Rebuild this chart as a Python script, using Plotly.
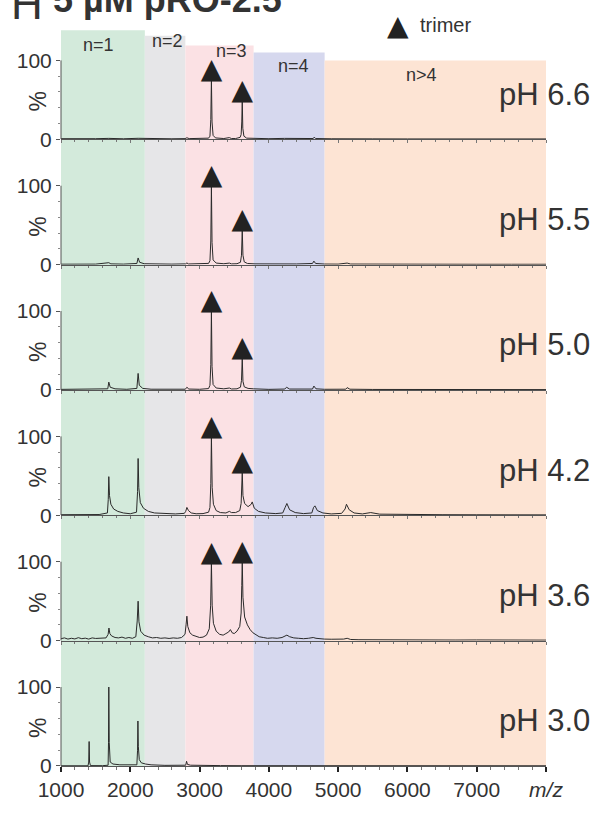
import plotly.graph_objects as go
from plotly.subplots import make_subplots

# ---------------- data ----------------
ph_labels = ["pH 6.6", "pH 5.5", "pH 5.0", "pH 4.2", "pH 3.6", "pH 3.0"]

mz1 = [1000, 1250, 1500, 1690, 1900, 2113, 2300, 2600, 2790, 2817,
       2850, 3000, 3130, 3150, 3162, 3171, 3180, 3195, 3230, 3350,
       3430, 3460, 3520, 3585, 3600, 3609, 3616, 3624, 3640, 3680,
       3800, 4000, 4226, 4500, 4640, 4655, 4675, 4900, 5120, 5500,
       6000, 6500, 7000, 7500, 8000]
int1 = [0.8, 0.6, 0.8, 1.2, 0.7, 1.3, 0.8, 0.7, 0.9, 2.0,
        0.9, 0.8, 1.5, 4, 25, 76, 22, 5, 1.8, 1.0,
        2.2, 1.0, 1.0, 2.5, 6, 22, 49, 14, 4, 1.5,
        1.0, 0.8, 1.2, 0.7, 1.0, 2.8, 1.0, 0.7, 1.0, 0.6,
        0.5, 0.5, 0.6, 0.5, 0.5]

mz2 = [1000, 1300, 1500, 1690, 1720, 1900, 2095, 2113, 2135, 2200,
       2400, 2600, 2800, 2817, 2840, 3000, 3130, 3150, 3162, 3171,
       3180, 3195, 3240, 3350, 3430, 3460, 3540, 3590, 3605, 3616,
       3626, 3645, 3690, 3800, 4000, 4250, 4400, 4630, 4650, 4675,
       4800, 5000, 5130, 5180, 5500, 6000, 6500, 7000, 7500, 8000]
int2 = [0.6, 0.8, 0.7, 2.5, 1.0, 0.7, 1.5, 8.5, 3.0, 1.2,
        0.8, 0.7, 1.0, 2.2, 0.9, 0.8, 1.6, 5, 30, 100,
        28, 6, 2.0, 1.2, 2.0, 1.0, 1.2, 3, 12, 44,
        12, 3.5, 1.5, 1.0, 0.8, 1.5, 0.9, 1.5, 4.5, 1.5,
        0.8, 0.7, 2.0, 0.8, 0.6, 0.5, 0.6, 0.5, 0.5, 0.5]

mz3 = [1000, 1300, 1500, 1675, 1690, 1710, 1780, 1950, 2095, 2113,
       2130, 2180, 2300, 2600, 2795, 2817, 2845, 3000, 3130, 3150,
       3162, 3171, 3180, 3195, 3240, 3350, 3430, 3460, 3540, 3590,
       3605, 3616, 3626, 3645, 3700, 3780, 3850, 4000, 4230, 4255,
       4300, 4500, 4630, 4650, 4680, 4800, 5000, 5110, 5130, 5170,
       5500, 6000, 6500, 7000, 7500, 8000]
int3 = [0.8, 0.7, 0.9, 1.5, 10, 3.5, 1.5, 0.9, 2.0, 21,
        6, 2.0, 1.0, 0.8, 1.0, 3.5, 1.2, 0.9, 1.8, 6,
        32, 100, 30, 7, 2.5, 1.5, 2.5, 1.3, 1.5, 3.5,
        12, 41, 11, 4, 2.0, 1.5, 1.0, 0.8, 1.2, 3.5,
        1.2, 0.8, 1.2, 5, 1.5, 0.9, 0.8, 1.0, 3.0, 1.0,
        0.7, 0.6, 0.6, 0.6, 0.5, 0.5]

mz4 = [1000, 1200, 1400, 1550, 1670, 1682, 1690, 1700, 1720, 1760,
       1820, 1900, 2000, 2090, 2105, 2113, 2123, 2145, 2190, 2260,
       2350, 2500, 2650, 2780, 2800, 2817, 2840, 2880, 2950, 3050,
       3130, 3150, 3162, 3171, 3182, 3200, 3240, 3300, 3380, 3430,
       3460, 3520, 3580, 3600, 3609, 3616, 3626, 3650, 3700, 3745,
       3760, 3790, 3850, 3950, 4100, 4200, 4235, 4260, 4300, 4380,
       4500, 4620, 4645, 4665, 4700, 4780, 4900, 5050, 5100, 5120,
       5160, 5230, 5350, 5420, 5470, 5600, 5800, 6000, 6500, 7000,
       7500, 8000]
int4 = [0.8, 1.0, 1.2, 1.0, 3, 20, 49, 25, 14, 8,
        5, 3, 2, 4, 30, 72, 35, 16, 9, 5,
        3, 2, 1.8, 2.5, 5, 10, 6, 3, 2, 2.2,
        4, 10, 40, 100, 35, 14, 6, 3.5, 3, 5,
        3.5, 3.5, 6, 15, 35, 55, 25, 15, 11, 14,
        17, 9, 5, 3, 2.2, 3, 10, 15, 7, 3.5,
        2.2, 3, 10, 12, 6, 3, 1.8, 2.5, 8, 14,
        7, 3, 1.8, 2.5, 3.5, 1.5, 1.2, 1.0, 0.8, 0.7,
        0.6, 0.6]

mz5 = [1000, 1050, 1100, 1150, 1200, 1250, 1300, 1350, 1400, 1450,
       1500, 1550, 1600, 1650, 1680, 1692, 1705, 1730, 1780, 1830,
       1880, 1930, 1980, 2030, 2080, 2100, 2113, 2125, 2150, 2200,
       2260, 2320, 2380, 2440, 2500, 2560, 2620, 2680, 2740, 2790,
       2805, 2817, 2830, 2860, 2900, 2950, 3000, 3050, 3100, 3140,
       3160, 3171, 3182, 3200, 3240, 3290, 3340, 3380, 3420, 3445,
       3470, 3500, 3540, 3580, 3600, 3609, 3616, 3626, 3650, 3690,
       3730, 3770, 3810, 3860, 3920, 3980, 4050, 4120, 4190, 4230,
       4260, 4300, 4360, 4430, 4500, 4570, 4640, 4680, 4730, 4800,
       4900, 5000, 5080, 5130, 5180, 5300, 5500, 5800, 6100, 6400,
       6700, 7000, 7300, 7600, 8000]
int5 = [2.5, 3.5, 2.0, 3.0, 2.2, 3.8, 2.5, 3.2, 2.0, 3.5,
        2.8, 3.0, 4.0, 3.5, 8, 16, 9, 6, 4, 3.5,
        4.5, 3, 4, 3, 5, 25, 50, 24, 12, 7,
        5, 3.5, 4, 3, 3.5, 2.8, 3.5, 3, 4, 8,
        20, 31, 18, 10, 7, 5, 4, 4.5, 7, 15,
        45, 99, 45, 22, 12, 8, 7, 9, 11, 14,
        10, 9, 12, 18, 35, 70, 100, 55, 30, 20,
        14, 10, 8, 5, 4, 3, 3.5, 3, 4, 6,
        7, 5, 3.5, 3, 2.5, 3, 4, 3, 2.5, 2.0,
        1.8, 1.5, 2.0, 3.0, 1.5, 1.2, 1.0, 1.2, 0.9, 1.0,
        0.8, 0.9, 0.7, 0.8, 0.7]

mz6 = [1000, 1200, 1390, 1400, 1406, 1412, 1425, 1600, 1680, 1686,
       1690, 1696, 1710, 1750, 1850, 2000, 2095, 2105, 2110, 2116,
       2130, 2160, 2220, 2300, 2500, 2700, 2800, 2812, 2825, 2870,
       3000, 3300, 3600, 4000, 5000, 6000, 7000, 8000]
int6 = [0.3, 0.3, 0.3, 5, 31, 5, 0.5, 0.4, 1, 30,
        100, 30, 5, 2.5, 1.5, 1.0, 1.5, 20, 57, 25,
        8, 4, 2.5, 1.5, 0.8, 0.6, 1.0, 6, 2, 1.0,
        0.6, 0.5, 0.4, 0.4, 0.3, 0.3, 0.3, 0.3]

spectra_mz = [mz1, mz2, mz3, mz4, mz5, mz6]
spectra_int = [int1, int2, int3, int4, int5, int6]

trimer_mz = [3171, 3616]
trimer_heights = [[76, 49], [100, 44], [100, 41], [100, 55], [99, 100], []]

region_labels = ["n=1", "n=2", "n=3", "n=4", "n>4"]
region_edges = [1000, 2210, 2795, 3780, 4805, 8000]

x_tickvals = [1000, 2000, 3000, 4000, 5000, 6000, 7000, 8000]
x_ticktext = ["1000", "2000", "3000", "4000", "5000", "6000", "7000", "<i>m/z</i>"]
y_tickvals = [0, 100]
y_ticktext = ["0", "100"]

# ---------------- style / layout ----------------
W, H = 610, 813
L, R, T, B = 61, 64, 14, 37
PW, PH = W - L - R, H - T - B
FONT = "Liberation Sans, Arial, sans-serif"
TXT = "#333333"
region_colors = ["#d3eadb", "#e6e6e8", "#fbe1e4", "#d6d8ee", "#fde4d4"]
region_tops_px = [30.5, 36, 46, 53, 61]
region_label_px = [(98, 45), (167, 41), (231, 51), (293, 67), (421, 76)]

def px_x(p):
    return (p - L) / PW

def px_y(q):
    return (H - B - q) / PH

N = len(ph_labels)
fig = make_subplots(rows=N, cols=1, vertical_spacing=0, shared_xaxes=False)

YMAX = 127 / 80 * 100

for i in range(N):
    r = i + 1
    fig.add_trace(go.Scatter(x=spectra_mz[i], y=spectra_int[i], mode="lines",
                             line=dict(color="#2a2a2a", width=1),
                             hoverinfo="skip", showlegend=False), row=r, col=1)
    if trimer_heights[i]:
        fig.add_trace(go.Scatter(x=trimer_mz, y=[h + 11 for h in trimer_heights[i]],
                                 mode="text", text=["▲"] * len(trimer_mz),
                                 textposition="middle center",
                                 textfont=dict(family="DejaVu Sans", size=28, color="#222222"),
                                 hoverinfo="skip", showlegend=False, cliponaxis=False),
                      row=r, col=1)
    last = (i == N - 1)
    fig.update_xaxes(row=r, col=1, range=[1000, 8000], tickmode="array",
                     tickvals=x_tickvals, ticktext=x_ticktext,
                     showticklabels=last, showline=True, linecolor="#555555", linewidth=1,
                     ticks="outside", ticklen=5 if last else 3, tickwidth=2 if last else 1,
                     tickcolor="#222222" if last else "#777777",
                     minor=dict(dtick=200, tick0=1000, ticks="outside", ticklen=3 if last else 2,
                                tickcolor="#777777", tickwidth=1),
                     showgrid=False, zeroline=False,
                     tickfont=dict(family=FONT, size=21, color=TXT))
    fig.update_yaxes(row=r, col=1, range=[0, YMAX], tickmode="array",
                     tickvals=y_tickvals, ticktext=y_ticktext,
                     ticks="outside", ticklen=4, tickcolor="#555555",
                     minor=dict(tickmode="array", tickvals=[20, 40, 60, 80], ticks="outside",
                                ticklen=2, tickcolor="#888888"),
                     showline=False, showgrid=False, zeroline=False,
                     tickfont=dict(family=FONT, size=21, color=TXT))
    xs = "x" if r == 1 else f"x{r}"
    ys = "y" if r == 1 else f"y{r}"
    fig.add_shape(type="line", xref=f"{xs} domain", yref=ys, x0=0, x1=0,
                  y0=y_tickvals[0], y1=y_tickvals[-1], line=dict(color="#555555", width=1))
    fig.add_annotation(text=ph_labels[i], xref="paper", yref=ys, x=px_x(497), y=57,
                       xanchor="left", yanchor="middle", showarrow=False,
                       font=dict(family=FONT, size=31, color=TXT))
    fig.add_annotation(text="%", xref="paper", yref=ys, x=px_x(38), y=48,
                       xanchor="center", yanchor="middle", textangle=-90, showarrow=False,
                       font=dict(family=FONT, size=23, color=TXT))

for k in range(len(region_labels)):
    fig.add_shape(type="rect", xref="x", yref="paper",
                  x0=region_edges[k], x1=region_edges[k + 1],
                  y0=0, y1=px_y(region_tops_px[k]),
                  fillcolor=region_colors[k], line=dict(width=0), layer="below")
    lx, ly = region_label_px[k]
    fig.add_annotation(text=region_labels[k], xref="paper", yref="paper",
                       x=px_x(lx), y=px_y(ly), xanchor="center", yanchor="middle",
                       showarrow=False, font=dict(family=FONT, size=18, color=TXT))

# legend for trimer marker
fig.add_annotation(text="▲", xref="paper", yref="paper", x=px_x(398), y=px_y(26),
                   xanchor="center", yanchor="middle", showarrow=False,
                   font=dict(family="DejaVu Sans", size=28, color="#222222"))
fig.add_annotation(text="trimer", xref="paper", yref="paper", x=px_x(418), y=px_y(25),
                   xanchor="left", yanchor="middle", showarrow=False,
                   font=dict(family=FONT, size=20, color=TXT))

# panel title (partly cut off at the top, as in the source figure)
fig.add_annotation(text="H", xref="paper", yref="paper", x=px_x(9), y=px_y(30),
                   xanchor="left", yanchor="bottom", showarrow=False,
                   font=dict(family=FONT, size=44, color=TXT))
fig.add_annotation(text="<b>5 µM pRO-2.5</b>", xref="paper", yref="paper", x=px_x(51), y=px_y(22),
                   xanchor="left", yanchor="bottom", showarrow=False,
                   font=dict(family=FONT, size=36, color=TXT))

fig.update_layout(width=W, height=H, margin=dict(l=L, r=R, t=T, b=B),
                  paper_bgcolor="white", plot_bgcolor="rgba(0,0,0,0)",
                  showlegend=False, font=dict(family=FONT, color=TXT))

fig.write_html("out.html")
